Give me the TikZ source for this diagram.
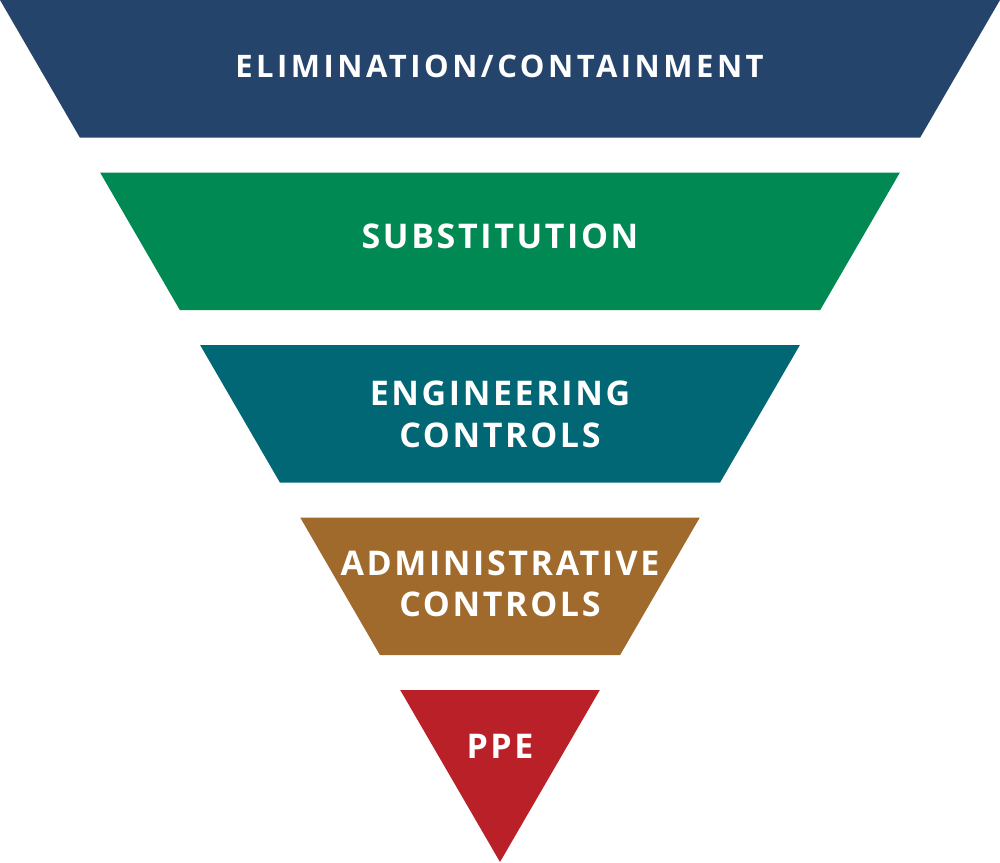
\documentclass[tikz,border=0pt]{standalone}
\usepackage{fontspec}
\newfontfamily\tierfont{Open Sans}[LetterSpace=7.7]
\newfontfamily\topfont{Open Sans}[LetterSpace=11.3]
\definecolor{elimblue}{HTML}{25446C}
\definecolor{substgreen}{HTML}{008952}
\definecolor{engteal}{HTML}{016775}
\definecolor{adminbrown}{HTML}{A06A2C}
\definecolor{ppered}{HTML}{BA2028}

\begin{document}
\begin{tikzpicture}[x=1pt, y=-1pt, tier/.style={text=white, align=center, inner sep=0pt, outer sep=0pt, text depth=0pt, font=\tierfont\bfseries\fontsize{34}{41.7}\selectfont}]
\useasboundingbox (0,0) rectangle (1000,862);
\fill[elimblue] (0,0) -- (1000,0) -- (920.2,137.5) -- (79.8,137.5) -- cycle; % elimination
\fill[substgreen] (100.1,172.5) -- (899.9,172.5) -- (820.2,310) -- (179.8,310) -- cycle; % substitution
\fill[engteal] (200.1,345) -- (799.9,345) -- (720.1,482.5) -- (279.9,482.5) -- cycle; % engineering
\fill[adminbrown] (300.2,517.5) -- (699.8,517.5) -- (620.1,655) -- (379.9,655) -- cycle; % administrative
\fill[ppered] (400.2,690) -- (599.8,690) -- (500,862) -- cycle; % ppe
\node[tier, font=\topfont\bfseries\fontsize{31}{38}\selectfont] (elim) at (499.5,65.8) {ELIMINATION/CONTAINMENT};
\node[tier] (subst) at (500,236) {SUBSTITUTION};
\node[tier] (eng) at (500,414.5) {ENGINEERING\\CONTROLS};
\node[tier] (admin) at (500,583.7) {ADMINISTRATIVE\\CONTROLS};
\node[tier] (ppe) at (500,746.8) {PPE};
\end{tikzpicture}
\end{document}
